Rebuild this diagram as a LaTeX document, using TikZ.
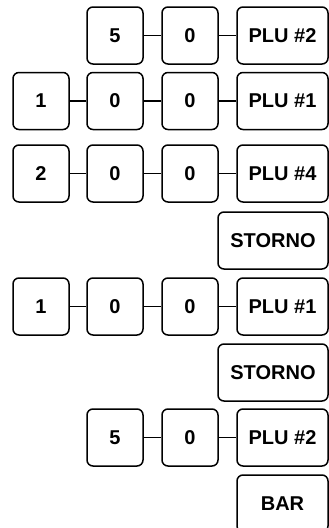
\documentclass[tikz,border=0pt]{standalone}
\usepackage{fontspec}
\setmainfont{Liberation Sans}

\begin{document}
\begin{tikzpicture}[x=1pt, y=-1pt, line width=1.5pt,
    touche/.style={draw, rounded corners=6pt, minimum width=56pt, minimum height=57pt,
        inner sep=0pt, font=\fontsize{20}{22}\selectfont\bfseries},
    plu/.style={touche, minimum width=91pt},
    large/.style={touche, minimum width=110pt}]
    \useasboundingbox (0,0) rectangle (329,528);

    % Ligne 1 : 5 0 PLU #2
    \node[touche] (a1) at (115,35.5) {5};
    \node[touche] (a2) at (190,35.5) {0};
    \node[plu] (a3) at (282.5,35.5) {PLU \#2};
    \draw (a1) -- (a2);
    \draw (a2) -- (a3);

    % Ligne 2 : 1 0 0 PLU #1
    \node[touche] (b1) at (41,101) {1};
    \node[touche] (b2) at (115,101) {0};
    \node[touche] (b3) at (190,101) {0};
    \node[plu] (b4) at (282.5,101) {PLU \#1};
    \draw (b1) -- (b2);
    \draw (b2) -- (b3);
    \draw (b3) -- (b4);

    % Ligne 3 : 2 0 0 PLU #4
    \node[touche] (c1) at (41,173.5) {2};
    \node[touche] (c2) at (115,173.5) {0};
    \node[touche] (c3) at (190,173.5) {0};
    \node[plu] (c4) at (282.5,173.5) {PLU \#4};
    \draw (c1) -- (c2);
    \draw (c2) -- (c3);
    \draw (c3) -- (c4);

    % Storno
    \node[large] (d1) at (273,240.5) {STORNO};

    % Ligne 5 : 1 0 0 PLU #1
    \node[touche] (e1) at (41,306.5) {1};
    \node[touche] (e2) at (115,306.5) {0};
    \node[touche] (e3) at (190,306.5) {0};
    \node[plu] (e4) at (282.5,306.5) {PLU \#1};
    \draw (e1) -- (e2);
    \draw (e2) -- (e3);
    \draw (e3) -- (e4);

    % Storno
    \node[large] (f1) at (273,372.5) {STORNO};

    % Ligne 7 : 5 0 PLU #2
    \node[touche] (g1) at (115,437.5) {5};
    \node[touche] (g2) at (190,437.5) {0};
    \node[plu] (g3) at (282.5,437.5) {PLU \#2};
    \draw (g1) -- (g2);
    \draw (g2) -- (g3);

    % Bar
    \node[plu] (h1) at (282.5,503.5) {BAR};

\end{tikzpicture}
\end{document}
